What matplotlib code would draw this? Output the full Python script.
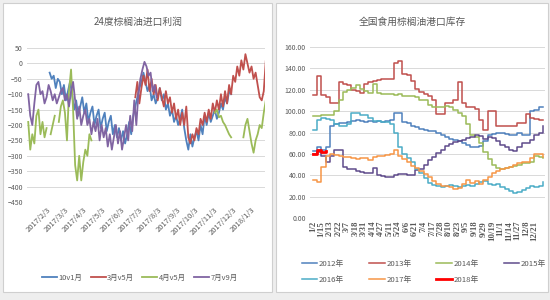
import numpy as np
import pandas as pd
import matplotlib
matplotlib.use('Agg')
import matplotlib.pyplot as plt
from matplotlib.patches import Rectangle

plt.rcParams['font.family'] = ['Noto Sans CJK SC', 'DejaVu Sans']

# ---- left chart: 24度棕榈油进口利润 (one value every 80 hours) ----
profit_names = ['10v1月', '3月v5月', '4月v5月', '7月v9月']
profit_colors = ['#4F81BD', '#C0504D', '#9BBB59', '#8064A2']
step = '80h'

p10v1_start = '2017-02-07'
p10v1 = [-30, -50, -40, -80, -50, -60, -100, -70, -120, -90, -60, -100, -150, -120,
         -170, -140, -110, -160, -130, -190, -160, -140, -200, -170, -150, -210, -180,
         -160, -220, -190, -170, -230, -200, -240, -210, -250, -220, -260, -230, -190,
         -230, -170, -140, -110, -80, -60, -30, -60, -90, -70, -120, -100, -130, -110,
         -80, -120, -100, -150, -130, -170, -150, -190, -170, -200, -180, -150, -210,
         -250, -280, -230, -270, -240, -220, -250, -200, -230, -170, -200, -160, -190,
         -170, -150, -180, -160, -130, -150, -110, -130, -90, -100]

p3v5_start = '2017-06-27'
p3v5 = [-110, -60, -130, -80, -40, -70, -20, -90, -50, -100, -70, -120, -80, -110,
        -140, -90, -130, -110, -160, -130, -180, -150, -200, -160, -200, -140, -240,
        -260, -230, -250, -210, -230, -180, -200, -160, -190, -150, -180, -130, -160,
        -120, -150, -100, -140, -90, -130, -70, -100, -40, -60, -10, -40, 10, -20, 30,
        0, -30, -10, -50, -30, -70, -110, -120, -90, 10, -40]

p4v5_start_a = '2017-01-03'
p4v5_a = [-190, -280, -230, -260, -170, -150, -230, -190, -240, -210, np.nan, -230,
          -200, -170, np.nan, -190, -140, -120, -160, -250, -90, -20, -150, -330, -380,
          -300, -380, -320, -280, -300, -230, -250]
p4v5_start_b = '2017-11-04'
p4v5_b = [-160, -150, -175, -170, -190, -200, -215, -230, -240, np.nan, np.nan,
          np.nan, np.nan, np.nan, -240, -200, -180, -220, -260, -290, -250, -230,
          -200, -210, -160, -120]

p7v9_start = '2017-01-03'
p7v9 = [-100, -170, -200, -130, -70, -60, -100, -90, -130, -110, -70, -90, -120, -100,
        -130, -110, -90, -80, -120, -100, -140, -90, -60, -120, -180, -140, -200, -170,
        -150, -200, -180, -230, -190, -220, -180, -250, -200, -240, -210, -270, -230,
        -280, -240, -200, -260, -220, -280, -240, -200, -250, -170, -220, -120, -200,
        -100, -50, -20, 5, -10, -40, -30, -90, -70, -110]

month_ticks = pd.date_range('2017-01-03', '2018-01-03', freq='MS') + pd.Timedelta(days=2)

# ---- right chart: 全国食用棕榈油港口库存 ----
stock_labels = ['1/2', '1/15', '2/13', '2/22', '3/7', '3/18', '3/31', '4/14', '4/27',
                '5/11', '5/24', '6/6', '6/21', '7/4', '7/17', '7/28', '8/10', '8/23',
                '9/5', '9/18', '9/29', '10/19', '11/1', '11/14', '11/27', '12/8', '12/21']
years = ['2012年', '2013年', '2014年', '2015年', '2016年', '2017年', '2018年']
year_colors = ['#4F81BD', '#C0504D', '#9BBB59', '#5F4B8B', '#4BACC6', '#F79646', '#FF0000']

s2012 = [63, 66, 64, 66, 86, 88, 89, 89, 90, 91, 92, 91, 90, 91, 90, 91, 90, 91, 92, 98,
         98, 90, 89, 86, 85, 83, 82, 81, 81, 80, 78, 76, 74, 73, 72, 70, 68, 66, 66, 67,
         72, 78, 79, 80, 80, 79, 78, 78, 80, 78, 78, 100, 101, 104, 104]
s2013 = [115, 133, 115, 113, 108, 108, 127, 125, 124, 120, 119, 117, 125, 127, 128, 129,
         130, 130, 130, 145, 147, 135, 134, 128, 121, 118, 116, 114, 110, 97, 97, 108, 108,
         110, 127, 108, 104, 104, 102, 92, 82, 100, 100, 86, 86, 86, 86, 86, 89, 89, 97,
         94, 93, 92, 92]
s2014 = [95, 95, 96, 96, 96, 100, 110, 118, 120, 122, 124, 121, 119, 117, 125, 117, 116,
         116, 116, 115, 116, 114, 114, 114, 113, 110, 110, 106, 104, 104, 104, 105, 104,
         101, 98, 95, 88, 78, 76, 70, 62, 55, 50, 47, 46, 47, 48, 49, 50, 51, 51, 52, 58,
         57, 56]
s2015 = [60, 62, 58, 52, 58, 64, 64, 48, 46, 46, 44, 43, 42, 42, 47, 40, 39, 38, 38, 40,
         41, 41, 40, 40, 45, 46, 50, 54, 57, 61, 64, 67, 69, 71, 72, 73, 75, 76, 78, 77,
         74, 76, 75, 72, 68, 66, 64, 63, 66, 70, 70, 73, 78, 80, 86]
s2016 = [82, 92, 94, 93, 92, 88, 86, 86, 88, 98, 98, 96, 96, 94, 91, 91, 90, 90, 88, 80,
         66, 60, 56, 52, 46, 42, 37, 33, 31, 30, 29, 30, 31, 30, 29, 30, 31, 30, 32, 34,
         35, 32, 31, 32, 29, 27, 25, 23, 24, 26, 28, 30, 29, 30, 34]
s2017 = [36, 34, 48, 58, 60, 59, 58, 57, 57, 56, 55, 56, 56, 54, 57, 58, 58, 59, 60, 64,
         58, 55, 52, 49, 47, 44, 41, 38, 35, 32, 30, 30, 29, 27, 28, 32, 36, 33, 35, 32,
         36, 38, 42, 44, 46, 47, 48, 50, 51, 52, 52, 56, 60, 60, 57]
s2018 = [60, 64, 62, 63]
stock_series = [s2012, s2013, s2014, s2015, s2016, s2017, s2018]

txt = '#595959'
grid = '#D9D9D9'

fig = plt.figure(figsize=(5.5, 3.0), dpi=100, facecolor='#EEEEEE')
for x0, x1 in [(3, 272), (276, 548)]:
    fig.patches.append(Rectangle((x0 / 550, 8 / 300), (x1 - x0) / 550, 289 / 300,
                                 transform=fig.transFigure, facecolor='white',
                                 edgecolor='#CFCFCF', lw=0.8, zorder=-5))

# left axes
ax1 = fig.add_axes([27 / 550, 1 - 202 / 300, 238 / 550, 154 / 300])
ax1.set_facecolor('none')
series = [(p10v1_start, p10v1), (p3v5_start, p3v5), (p4v5_start_a, p4v5_a), (p7v9_start, p7v9)]
for (start, vals), name, col in zip(series, profit_names, profit_colors):
    d = pd.date_range(start, periods=len(vals), freq=step)
    ax1.plot(d, vals, color=col, lw=1.3, label=name)
    if name == '4月v5月':
        d2 = pd.date_range(p4v5_start_b, periods=len(p4v5_b), freq=step)
        ax1.plot(d2, p4v5_b, color=col, lw=1.3)
ax1.set_ylim(-450, 50)
ax1.set_yticks(range(-450, 51, 50))
ax1.set_xlim(pd.Timestamp('2017-01-01'), pd.Timestamp('2018-01-25'))
ax1.set_xticks(month_ticks)
ax1.set_xticklabels([f'{t.year}/{t.month}/{t.day}' for t in month_ticks],
                    rotation=45, ha='right', rotation_mode='anchor')
ax1.grid(axis='y', color=grid, lw=0.7)
ax1.set_axisbelow(True)
for s in ax1.spines.values():
    s.set_visible(False)
ax1.tick_params(axis='y', length=0, labelsize=5, colors=txt, pad=3)
ax1.tick_params(axis='x', length=0, labelsize=5.5, colors=txt, pad=3)
ax1.legend(loc='center', bbox_to_anchor=(140 / 550, 1 - 278 / 300),
           bbox_transform=fig.transFigure, ncol=4, frameon=False, fontsize=5.4,
           labelcolor=txt, handlelength=2.0, handletextpad=0.2, columnspacing=1.1)
fig.text(138 / 550, 1 - 22 / 300, '24度棕榈油进口利润', ha='center', va='center',
         fontsize=7, color=txt)

# right axes
ax2 = fig.add_axes([310 / 550, 1 - 218 / 300, 235 / 550, 171 / 300])
ax2.set_facecolor('none')
handles = []
for vals, name, col in zip(stock_series, years, year_colors):
    lw = 2.0 if name == '2018年' else 1.1
    h, = ax2.plot(np.arange(len(vals)), vals, color=col, lw=lw, label=name,
                  drawstyle='steps-post')
    handles.append(h)
ax2.set_ylim(0, 160)
ax2.set_yticks(range(0, 161, 20))
ax2.set_yticklabels([f'{v:.2f}' for v in range(0, 161, 20)])
ax2.set_xlim(-0.7, 54.5)
ax2.set_xticks(np.arange(0, 2 * len(stock_labels), 2))
ax2.set_xticklabels(stock_labels, rotation=90, fontsize=6.3,
                    family='Liberation Serif', fontweight='bold')
ax2.grid(axis='y', color=grid, lw=0.7)
ax2.set_axisbelow(True)
for s in ax2.spines.values():
    s.set_visible(False)
ax2.tick_params(axis='y', length=0, labelsize=5, colors=txt, pad=3)
ax2.tick_params(axis='x', length=0, colors=txt, pad=2)
order = [0, 4, 1, 5, 2, 6, 3]
ax2.legend([handles[i] for i in order], [years[i] for i in order], loc='center',
           bbox_to_anchor=(424 / 550, 1 - 272 / 300), bbox_transform=fig.transFigure,
           ncol=4, frameon=False, fontsize=5.6, labelcolor=txt, handlelength=2.0,
           handletextpad=0.2, columnspacing=3.2, labelspacing=1.0)
fig.text(412 / 550, 1 - 22 / 300, '全国食用棕榈油港口库存', ha='center', va='center',
         fontsize=7, color=txt)

fig.savefig('out.png', dpi=100, facecolor=fig.get_facecolor())
